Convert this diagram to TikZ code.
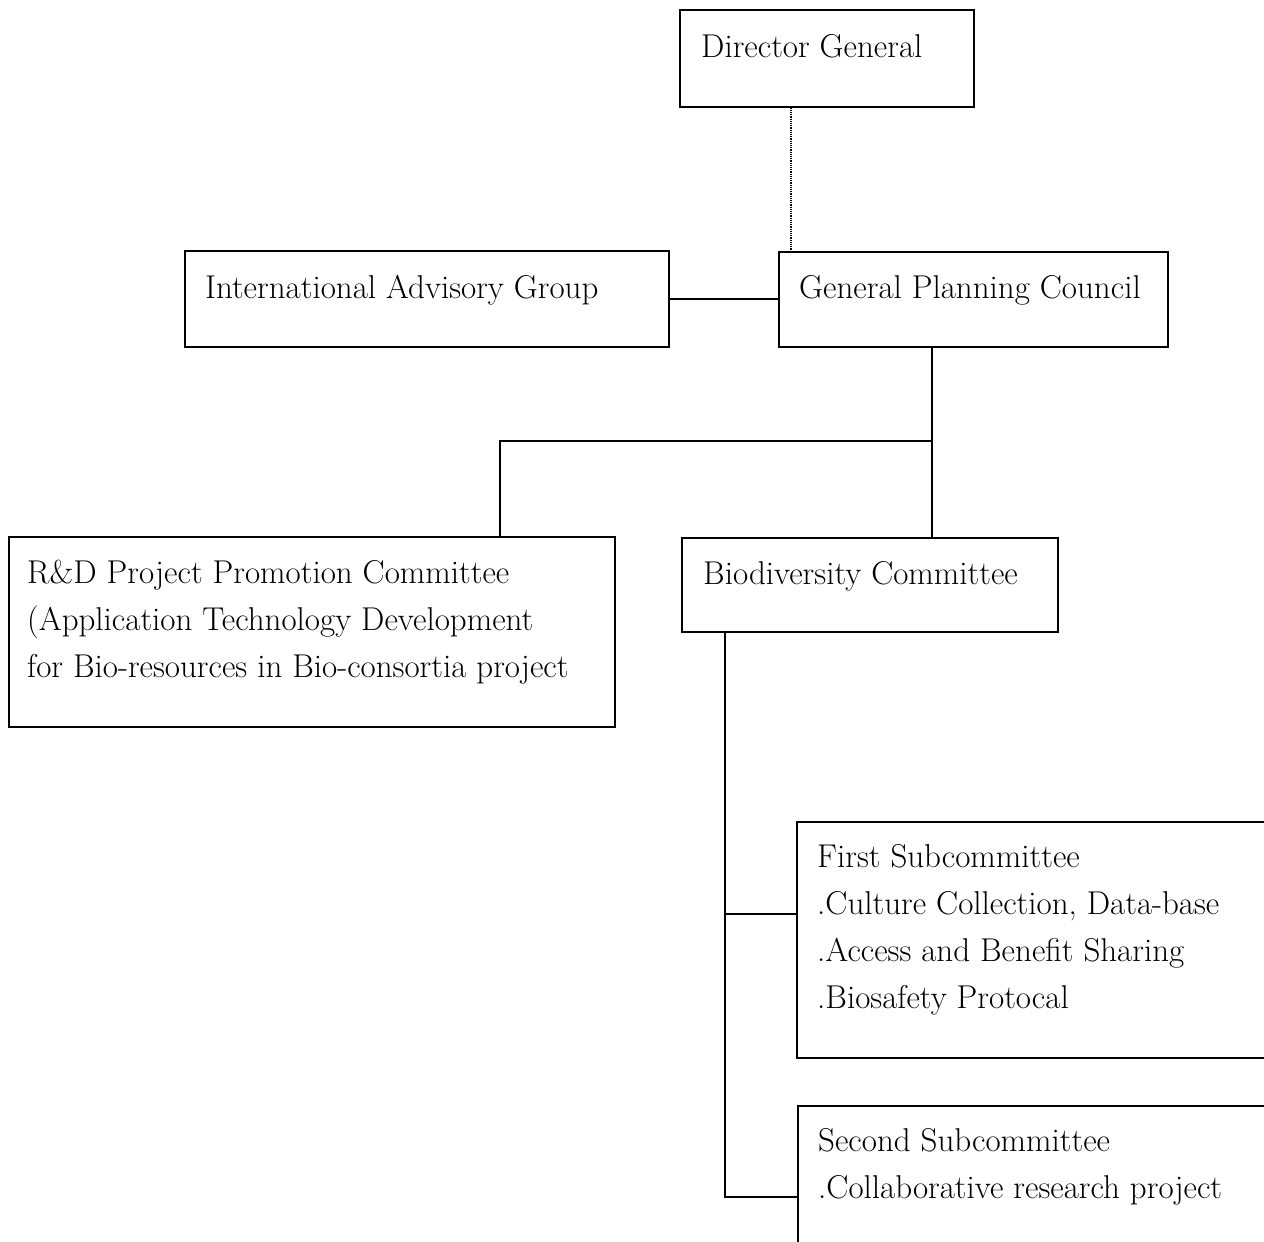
\documentclass[tikz,border=0pt]{standalone}
\begin{document}
\begin{tikzpicture}[x=1pt,y=-1pt,
  box/.style={draw=black, line width=1.5pt, rectangle, inner sep=0pt, anchor=north west},
  lbl/.style={anchor=base west, inner sep=0pt, align=left, font=\fontsize{33}{47}\selectfont},
  link/.style={line width=1.6pt},
  dotlink/.style={line width=1.2pt, densely dotted},
]
\useasboundingbox (0,0) rectangle (1264,1242);
\clip (0,0) rectangle (1264,1242);

% boxes
\node[box, minimum width=294pt, minimum height=97pt]  (dg)   at (679,9)    {};
\node[box, minimum width=484pt, minimum height=96pt]  (iag)  at (184,250)  {};
\node[box, minimum width=389pt, minimum height=95pt]  (gpc)  at (778,251)  {};
\node[box, minimum width=606pt, minimum height=190pt] (rd)   at (8,536)    {};
\node[box, minimum width=376pt, minimum height=94pt]  (bio)  at (681,537)  {};
\node[box, minimum width=520pt, minimum height=236pt] (sub1) at (796,821)  {};
\node[box, minimum width=520pt, minimum height=220pt] (sub2) at (797,1105) {};

% labels
\node[lbl] (dgt)  at (701,57)  {Director General};
\node[lbl] (iagt) at (205,298) {International Advisory Group};
\node[lbl] (gpct) at (799,298) {General Planning Council};
\node[lbl] (rdt1) at (27,583)  {R\&D Project Promotion Committee};
\node[lbl] (rdt2) at (27,630)  {(Application Technology Development};
\node[lbl] (rdt3) at (27,677)  {for Bio-resources in Bio-consortia project};
\node[lbl] (biot) at (703,584) {Biodiversity Committee};
\node[lbl] (s1t1) at (817,867)  {First Subcommittee};
\node[lbl] (s1t2) at (817,914)  {.Culture Collection, Data-base};
\node[lbl] (s1t3) at (817,961)  {.Access and Benefit Sharing};
\node[lbl] (s1t4) at (817,1008) {.Biosafety Protocal};
\node[lbl] (s2t1) at (818,1151) {Second Subcommittee};
\node[lbl] (s2t2) at (818,1198) {.Collaborative research project};

% connectors
\coordinate (dgx) at (791,0);
\draw[dotlink] (dg.south -| dgx) -- (gpc.north -| dgx);
\draw[link] (iag.east) -- (iag.east -| gpc.west);

\coordinate (trunk) at (932,441);
\coordinate (rdx) at (500,441);
\draw[link] (gpc.south -| trunk) -- (trunk) -- (bio.north -| trunk);
\draw[link] (trunk) -- (rdx) -- (rd.north -| rdx);

\coordinate (bx) at (725,914);
\coordinate (bx2) at (725,1197);
\draw[link] (bio.south -| bx) -- (bx2) -- (bx2 -| sub2.west);
\draw[link] (bx) -- (bx -| sub1.west);
\end{tikzpicture}
\end{document}
